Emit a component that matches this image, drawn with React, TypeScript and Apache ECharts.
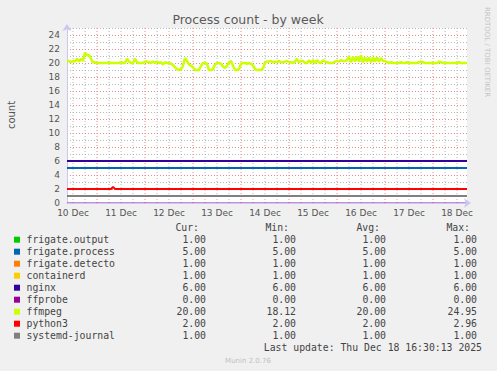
import React, { useEffect, useRef } from 'react';
import * as echarts from 'echarts';

// Time axis in hours since Dec 10 00:00
const START_HOUR = 9;
const END_HOUR = 209;

const dayLabels = ['10 Dec', '11 Dec', '12 Dec', '13 Dec', '14 Dec', '15 Dec', '16 Dec', '17 Dec', '18 Dec'];
const dayLabelHours = [12, 36, 60, 84, 108, 132, 156, 180, 204];
const dayBoundaryHours = [24, 48, 72, 96, 120, 144, 168, 192];
const sixHourGridHours = [12, 18, 30, 36, 42, 54, 60, 66, 78, 84, 90, 102, 108, 114, 126, 132, 138, 150, 156, 162, 174, 180, 186, 198, 204];
const yTickLabels = [0, 2, 4, 6, 8, 10, 12, 14, 16, 18, 20, 22, 24];
const Y_MIN = 0;
const Y_MAX = 25;

// hourly ffmpeg samples starting at START_HOUR
const ffmpegValues = [
  20.3, 20.3, 20.1, 20.3, 20.2, 20.6, 20.2, 20.6, 20.3, 21.5,
  21.1, 21.1, 20.6, 20.1, 20.1, 20.0, 20.0, 20.0, 20.0, 20.0,
  20.0, 20.1, 20.0, 20.0, 20.0, 20.0, 20.0, 20.1, 20.0, 20.0,
  20.6, 20.2, 20.0, 20.0, 20.6, 20.1, 20.0, 20.0, 20.0, 20.2,
  20.2, 20.1, 20.0, 20.2, 20.0, 20.2, 20.0, 20.1, 19.8, 20.1,
  20.0, 20.0, 19.9, 19.7, 19.4, 19.1, 19.0, 19.1, 19.6, 20.7,
  20.3, 19.8, 19.6, 19.4, 19.0, 19.0, 19.0, 19.6, 20.0, 20.0,
  19.9, 19.0, 19.0, 19.1, 19.8, 20.0, 20.0, 19.9, 19.5, 19.3,
  19.6, 20.1, 20.3, 19.6, 19.0, 19.0, 19.1, 19.9, 20.0, 20.0,
  19.9, 20.0, 19.9, 19.7, 19.1, 19.0, 19.0, 19.0, 19.2, 20.1,
  20.2, 20.2, 20.3, 20.1, 20.2, 20.1, 20.3, 20.1, 20.1, 20.2,
  20.3, 20.1, 20.1, 20.0, 20.2, 20.6, 20.1, 20.3, 20.3, 20.0,
  20.0, 20.4, 20.0, 20.4, 20.0, 20.4, 20.1, 20.0, 20.4, 20.2,
  20.1, 20.0, 20.0, 20.0, 20.2, 20.3, 20.2, 20.4, 20.3, 20.3,
  20.4, 20.9, 20.1, 20.9, 20.2, 20.9, 20.2, 21.1, 20.1, 20.8,
  20.2, 20.8, 20.1, 20.8, 20.2, 20.8, 20.2, 20.7, 20.3, 20.3,
  20.1, 20.0, 20.1, 20.0, 20.0, 20.0, 20.0, 20.1, 20.0, 20.0,
  20.1, 20.0, 20.0, 20.0, 20.0, 20.0, 20.1, 20.2, 20.1, 20.0,
  20.0, 20.0, 20.0, 20.0, 20.0, 20.0, 20.2, 20.1, 20.0, 20.0,
  20.0, 20.0, 20.0, 20.0, 20.0, 20.0, 20.1, 20.0, 20.0, 20.0,
  20.0,
];

const flatHours = [START_HOUR, END_HOUR];
const frigateOutputValues = [1, 1];
const frigateProcessValues = [5, 5];
const frigateDetectoValues = [1, 1];
const containerdValues = [1, 1];
const nginxValues = [6, 6];
const ffprobeValues = [0, 0];
const systemdJournalValues = [1, 1];
const python3Hours = [START_HOUR, 31, 32, 33, END_HOUR];
const python3Values = [2, 2, 2.3, 2, 2];

const seriesNames = ['frigate.output', 'frigate.process', 'frigate.detecto', 'containerd', 'nginx', 'ffprobe', 'ffmpeg', 'python3', 'systemd-journal'];
const seriesColors = ['#00CC00', '#0066B3', '#FF8000', '#FFCC00', '#330099', '#990099', '#CCFF00', '#FF0000', '#808080'];
const curStats = [1.0, 5.0, 1.0, 1.0, 6.0, 0.0, 20.0, 2.0, 1.0];
const minStats = [1.0, 5.0, 1.0, 1.0, 6.0, 0.0, 18.12, 2.0, 1.0];
const avgStats = [1.0, 5.0, 1.0, 1.0, 6.0, 0.0, 20.0, 2.0, 1.0];
const maxStats = [1.0, 5.0, 1.0, 1.0, 6.0, 0.0, 24.95, 2.96, 1.0];
const statHeaders = ['Cur:', 'Min:', 'Avg:', 'Max:'];

const zip = (xs: number[], ys: number[]) => xs.map((x, i) => [x, ys[i]]);

const RED_GRID = '#E88A8A';
const GRAY_GRID = '#B8B8B8';

// vertical rule segments separated by gaps
const verticalRules = (hours: number[]) => {
  const out: any[] = [];
  hours.forEach((h) => {
    out.push([h, Y_MIN], [h, Y_MAX], [h, '-']);
  });
  return out;
};

export default function App() {
  const ref = useRef<HTMLDivElement>(null);
  useEffect(() => {
    if (!ref.current) return;
    const chart = echarts.init(ref.current, null, { renderer: 'svg' });
    const sans = 'DejaVu Sans';
    const mono = 'DejaVu Sans Mono';

    const seriesData = [
      zip(flatHours, frigateOutputValues),
      zip(flatHours, frigateProcessValues),
      zip(flatHours, frigateDetectoValues),
      zip(flatHours, containerdValues),
      zip(flatHours, nginxValues),
      zip(flatHours, ffprobeValues),
      ffmpegValues.map((v, i) => [START_HOUR + i, v]),
      zip(python3Hours, python3Values),
      zip(flatHours, systemdJournalValues),
    ];

    const gridSeries = [
      { hours: sixHourGridHours, color: GRAY_GRID },
      { hours: dayBoundaryHours, color: RED_GRID },
    ].map((g, k) => ({
      name: 'vgrid' + k,
      type: 'line',
      data: verticalRules(g.hours),
      connectNulls: false,
      showSymbol: false,
      symbol: 'none',
      silent: true,
      z: 1,
      lineStyle: { color: g.color, width: 1, type: [1, 2] },
    }));

    const series: any[] = [
      ...gridSeries,
      ...seriesNames.map((name, i) => ({
        name,
        type: 'line',
        data: seriesData[i],
        showSymbol: false,
        symbol: 'none',
        z: 3,
        lineStyle: {
          color: seriesColors[i],
          width: name === 'ffmpeg' ? 2.5 : 2,
          opacity: name === 'ffprobe' ? 0.45 : 1,
        },
        itemStyle: { color: seriesColors[i] },
        silent: true,
      })),
    ];

    const rowY0 = 239.7;
    const rowH = 12;
    const colRight = [206, 296, 386, 477];
    const headerRight = [199, 289, 380, 470];
    const statCols = [curStats, minStats, avgStats, maxStats];
    const legendColor = '#444';

    const graphic: any[] = [];
    graphic.push({
      type: 'text', x: 248, y: 19,
      style: { text: 'Process count - by week', fontFamily: sans, fontSize: 12.5, fill: '#5a5a5a', align: 'center', verticalAlign: 'middle' },
    });
    graphic.push({
      type: 'text', x: 11, y: 115, rotation: Math.PI / 2,
      style: { text: 'count', fontFamily: sans, fontSize: 10, fill: '#555', align: 'center', verticalAlign: 'middle' },
    });
    graphic.push({
      type: 'text', x: 487, y: 52, rotation: -Math.PI / 2,
      style: { text: 'RRDTOOL / TOBI OETIKER', fontFamily: sans, fontSize: 7, fill: '#c4c4c4', align: 'center', verticalAlign: 'middle' },
    });
    statHeaders.forEach((h, j) => {
      graphic.push({
        type: 'text', x: headerRight[j], y: 227.7,
        style: { text: h, fontFamily: mono, fontSize: 9.8, fill: legendColor, align: 'right', verticalAlign: 'middle' },
      });
    });
    seriesNames.forEach((name, i) => {
      const y = rowY0 + i * rowH;
      graphic.push({ type: 'rect', shape: { x: 14, y: y - 3, width: 6, height: 6 }, style: { fill: seriesColors[i] } });
      graphic.push({
        type: 'text', x: 26.5, y,
        style: { text: name, fontFamily: mono, fontSize: 9.8, fill: legendColor, align: 'left', verticalAlign: 'middle' },
      });
      statCols.forEach((col, j) => {
        graphic.push({
          type: 'text', x: colRight[j], y,
          style: { text: col[i].toFixed(2), fontFamily: mono, fontSize: 9.8, fill: legendColor, align: 'right', verticalAlign: 'middle' },
        });
      });
    });
    graphic.push({
      type: 'text', x: 482, y: 347.7,
      style: { text: 'Last update: Thu Dec 18 16:30:13 2025', fontFamily: mono, fontSize: 9.8, fill: legendColor, align: 'right', verticalAlign: 'middle' },
    });
    graphic.push({
      type: 'text', x: 248, y: 360.7,
      style: { text: 'Munin 2.0.76', fontFamily: sans, fontSize: 7, fill: '#c0c0c0', align: 'center', verticalAlign: 'middle' },
    });

    chart.setOption({
      animation: false,
      backgroundColor: '#F0F0F0',
      grid: { left: 67, top: 28, width: 400, height: 175, show: true, backgroundColor: '#FFFFFF', borderWidth: 0 },
      xAxis: {
        type: 'value',
        min: START_HOUR,
        max: END_HOUR,
        z: 5,
        axisLine: { show: true, lineStyle: { color: '#C8C8F0', width: 1 }, symbol: ['none', 'arrow'], symbolSize: [7, 7], symbolOffset: [0, 4] },
        axisTick: { show: false },
        axisLabel: {
          customValues: dayLabelHours,
          formatter: (v: number) => dayLabels[dayLabelHours.indexOf(v)] ?? '',
          fontFamily: sans, fontSize: 9, color: '#555', margin: 5,
        },
        splitLine: { show: false },
      },
      yAxis: {
        type: 'value',
        min: Y_MIN,
        max: Y_MAX,
        interval: 1,
        axisLine: { show: true, lineStyle: { color: '#C8C8F0', width: 1 }, symbol: ['none', 'arrow'], symbolSize: [7, 7], symbolOffset: [0, 4] },
        axisTick: { show: false },
        axisLabel: {
          formatter: (v: number) => (yTickLabels.includes(v) ? String(v) : ''),
          fontFamily: sans, fontSize: 9, color: '#555', margin: 7,
        },
        splitLine: { show: true, lineStyle: { color: [RED_GRID, GRAY_GRID], type: [1, 2], width: 1 } },
      },
      series,
      graphic,
    });
    return () => chart.dispose();
  }, []);
  return <div ref={ref} style={{ position: 'fixed', left: 0, top: 0, width: 497, height: 371 }} />;
}
